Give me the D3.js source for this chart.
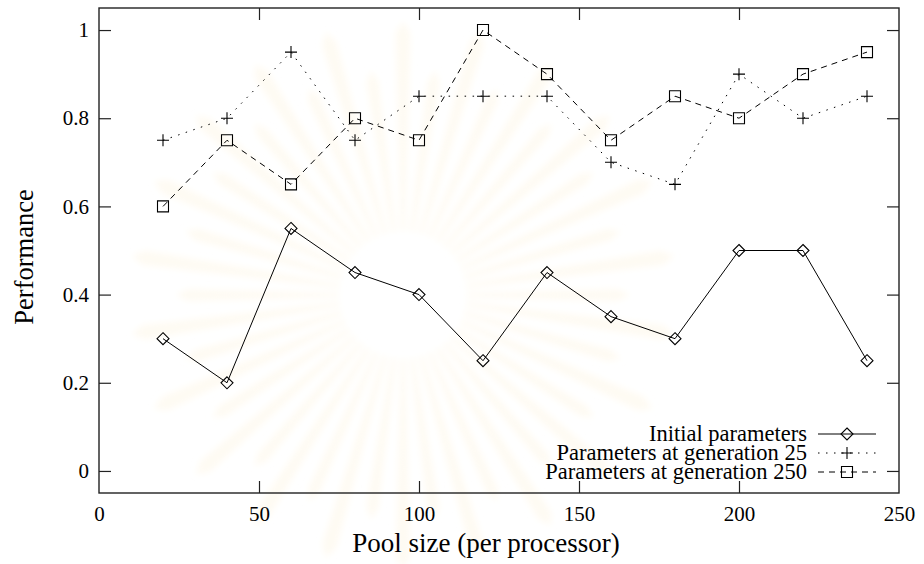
<!DOCTYPE html>
<html><head><meta charset="utf-8">
<script src="https://cdn.jsdelivr.net/npm/d3@7"></script>
<style>
body{margin:0;background:#fff}
svg{display:block}
svg text{font-family:"Liberation Serif",Tinos,"Times New Roman",Times,"DejaVu Serif",serif !important;fill:#000}
</style>
</head><body>
<svg id="c" width="924" height="564"></svg>
<script>
// ---- data ----
const poolSizes      = [20, 40, 60, 80, 100, 120, 140, 160, 180, 200, 220, 240];
const initialParams  = [0.30, 0.20, 0.55, 0.45, 0.40, 0.25, 0.45, 0.35, 0.30, 0.50, 0.50, 0.25];
const gen25Params    = [0.75, 0.80, 0.95, 0.75, 0.85, 0.85, 0.85, 0.70, 0.65, 0.90, 0.80, 0.85];
const gen250Params   = [0.60, 0.75, 0.65, 0.80, 0.75, 1.00, 0.90, 0.75, 0.85, 0.80, 0.90, 0.95];
const seriesNames    = ["Initial parameters", "Parameters at generation 25", "Parameters at generation 250"];
const xTicks         = [0, 50, 100, 150, 200, 250];
const yTicks         = [0, 0.2, 0.4, 0.6, 0.8, 1];
const yTickLabels    = ["0", "0.2", "0.4", "0.6", "0.8", "1"];
const xTitle = "Pool size (per processor)";
const yTitle = "Performance";

// ---- layout ----
const L = 99, R = 899, T = 8, B = 493;
const svg = d3.select("#c");
const x = d3.scaleLinear().domain([0, 250]).range([L, R]);
const y = d3.scaleLinear().domain([-0.05, 1.05]).range([B, T]);

// ---- faint background emblem (watermark) ----
const defs = svg.append("defs");
defs.append("filter").attr("id", "blur").append("feGaussianBlur").attr("stdDeviation", 3);
const wm = svg.append("g").attr("transform", "translate(403,295)").attr("filter", "url(#blur)");
const rays = d3.range(44);
wm.selectAll("path.ray").data(rays).join("path")
  .attr("class", "ray")
  .attr("d", i => {
    const a = i / rays.length * 2 * Math.PI;
    const w = 0.07;
    const r0 = 64, r1 = (i % 2 ? 215 : 262);
    const p = (r, ang) => [r * Math.sin(ang), -r * Math.cos(ang)];
    const a1 = p(r0, a - w * 0.5), a2 = p(r1, a - w * 0.4), a3 = p(r1 + 12, a), a4 = p(r1, a + w * 0.4), a5 = p(r0, a + w * 0.5);
    return `M${a1}L${a2}L${a3}L${a4}L${a5}Z`;
  })
  .attr("fill", "#fefbf3");

// ---- axes (gnuplot style, inward mirrored ticks) ----
const tickLen = 12;
const fmtY = (d) => yTickLabels[yTicks.indexOf(d)];
const gx = svg.append("g").attr("transform", `translate(0,${B})`)
  .call(d3.axisBottom(x).tickValues(xTicks).tickSizeInner(-tickLen).tickSizeOuter(0).tickPadding(13).tickFormat(d3.format("d")));
const gxt = svg.append("g").attr("transform", `translate(0,${T})`)
  .call(d3.axisTop(x).tickValues(xTicks).tickSizeInner(-tickLen).tickSizeOuter(0).tickFormat(""));
const gy = svg.append("g").attr("transform", `translate(${L},0)`)
  .call(d3.axisLeft(y).tickValues(yTicks).tickSizeInner(-tickLen).tickSizeOuter(0).tickPadding(10).tickFormat(fmtY));
const gyr = svg.append("g").attr("transform", `translate(${R},0)`)
  .call(d3.axisRight(y).tickValues(yTicks).tickSizeInner(-tickLen).tickSizeOuter(0).tickFormat(""));
[gx, gxt, gy, gyr].forEach(g => {
  g.attr("font-family", null).attr("font-size", null);
  g.select(".domain").remove();
  g.selectAll(".tick line").attr("stroke", "#222").attr("stroke-width", 1.2);
  g.selectAll(".tick text").attr("font-size", 21).attr("fill", "#000");
});
[gx, gxt].forEach(g => g.selectAll(".tick").filter(d => d === 0 || d === 250).select("line").remove());

// frame
svg.append("rect").attr("x", L).attr("y", T).attr("width", R - L).attr("height", B - T)
  .attr("fill", "none").attr("stroke", "#222").attr("stroke-width", 1.4);

// titles
svg.append("text").attr("x", 486).attr("y", 552).attr("text-anchor", "middle")
  .attr("font-size", 27).text(xTitle);
svg.append("text").attr("transform", "translate(33,257) rotate(-90)").attr("text-anchor", "middle")
  .attr("font-size", 26.5).text(yTitle);

// ---- series ----
const markers = {
  diamond: "M0,-6L6,0L0,6L-6,0Z",
  plus: "M-6,0H6M0,-6V6",
  square: "M-5.5,-5.5H5.5V5.5H-5.5Z"
};
const series = [
  {name: seriesNames[0], values: initialParams, dash: null, marker: "diamond"},
  {name: seriesNames[1], values: gen25Params, dash: "1.5,6.5", marker: "plus"},
  {name: seriesNames[2], values: gen250Params, dash: "6,5", marker: "square"}
];
const line = d3.line().x((d, i) => x(poolSizes[i])).y(d => y(d));

series.forEach(s => {
  svg.append("path").datum(s.values).attr("d", line)
    .attr("fill", "none").attr("stroke", "#000").attr("stroke-width", 1)
    .attr("stroke-dasharray", s.dash);
  svg.append("g").selectAll("path").data(s.values).join("path")
    .attr("transform", (d, i) => `translate(${x(poolSizes[i])},${y(d)})`)
    .attr("d", markers[s.marker])
    .attr("fill", "none").attr("stroke", "#000").attr("stroke-width", 1.1);
});

// ---- legend ----
const legRows = [434, 453, 472];
series.forEach((s, i) => {
  const g = svg.append("g").attr("transform", `translate(0,${legRows[i]})`);
  g.append("text").attr("x", 807).attr("y", 7).attr("text-anchor", "end").attr("font-size", 22.5).text(s.name);
  g.append("line").attr("x1", 818).attr("x2", 876).attr("y1", 0).attr("y2", 0)
    .attr("stroke", "#000").attr("stroke-width", 1).attr("stroke-dasharray", s.dash);
  g.append("path").attr("transform", "translate(847,0)").attr("d", markers[s.marker])
    .attr("fill", "none").attr("stroke", "#000").attr("stroke-width", 1.1);
});
</script>
</body></html>
